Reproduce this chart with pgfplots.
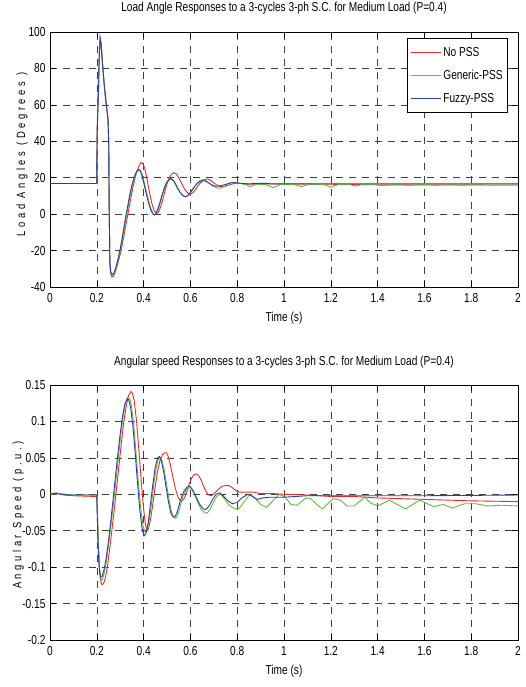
\documentclass[border=0pt]{standalone}
\usepackage{fontspec}
\setmainfont{Liberation Sans}[FakeStretch=0.78]
\usepackage{pgfplots}
\pgfplotsset{compat=1.18}
\definecolor{mred}{RGB}{240,40,40}
\definecolor{mgreen}{RGB}{100,185,60}
\definecolor{mblue}{RGB}{40,60,170}
\pgfplotsset{mstyle/.style={
  scale only axis, width=468pt, height=255pt,
  xmin=0, xmax=2,
  xtick={0,0.2,0.4,0.6,0.8,1,1.2,1.4,1.6,1.8,2},
  xticklabels={0,0.2,0.4,0.6,0.8,1,1.2,1.4,1.6,1.8,2},
  grid=major,
  major grid style={black!75, line width=0.6pt, dash pattern=on 7pt off 6pt},
  tick align=inside, tick pos=both, major tick length=6pt,
  tick style={black, line width=0.6pt},
  axis line style={black, line width=0.9pt},
  tick label style={font=\fontsize{13}{13}\selectfont},
  xticklabel style={yshift=-3pt},
  yticklabel style={xshift=-1pt},
  /pgf/number format/assume math mode=true,
  scaled y ticks=false,
  xlabel={Time (s)},
  xlabel style={font=\fontsize{13}{13}\selectfont, at={(axis description cs:0.5,-0.122)}, anchor=center},
  ylabel style={font=\fontsize{12}{12}\selectfont\addfontfeatures{LetterSpace=30}, anchor=center},
  title style={font=\fontsize{13}{13}\selectfont, anchor=center},
  every axis plot/.append style={line width=0.9pt},
}}
\begin{document}
\begin{tikzpicture}
\useasboundingbox (0,0) rectangle (526pt,-687pt);
\begin{axis}[mstyle, at={(50pt,-287pt)}, anchor=south west,
  ymin=-40, ymax=100,
  ytick={-40,-20,0,20,40,60,80,100},
  yticklabels={-40,-20,0,20,40,60,80,100},
  ylabel={Load Angles (Degrees )},
  ylabel style={at={(axis description cs:-0.06,0.52)}},
  title={Load Angle Responses to a 3-cycles 3-ph S.C. for Medium Load (P=0.4)},
  title style={at={(axis description cs:0.5,1.0706)}},
  legend cell align=left,
  legend style={at={(axis description cs:0.9786,0.9765)}, anchor=north east,
    line width=0.9pt, fill=white,
    font=\fontsize{13}{13}\selectfont, row sep=8pt,
    inner xsep=3pt, inner ysep=7pt},
  legend image code/.code={\draw[line width=1.1pt, #1] (0pt,0pt) -- (30pt,0pt);},
]
\addplot[color=mred] coordinates {
(0,16.8) (0.1,16.8) (0.2,16.8) (0.201,45) (0.204,58) (0.207,70) (0.211,88) (0.215,96) (0.219,93) (0.225,82) (0.232,70) (0.24,60) (0.248,52) (0.251,40) (0.253,5) (0.256,-28) (0.26,-33) (0.265,-34.5) (0.272,-34) (0.28,-31.5) (0.29,-27) (0.30,-22) (0.31,-16) (0.32,-9) (0.33,-2) (0.34,5) (0.35,12) (0.36,18) (0.37,23) (0.38,26.5) (0.39,28.5) (0.398,27.5) (0.405,25) (0.415,19) (0.425,12) (0.435,6) (0.445,2) (0.455,0.5) (0.462,0.8) (0.47,3) (0.48,7) (0.49,12) (0.50,16.5) (0.51,20) (0.52,22) (0.53,22.8) (0.54,22) (0.55,20) (0.56,17.5) (0.57,15) (0.58,12.8) (0.59,11.5) (0.6,11) (0.61,11.8) (0.62,13.3) (0.63,15) (0.64,16.8) (0.65,18) (0.66,19) (0.67,19.3) (0.68,19) (0.69,18.2) (0.70,17.2) (0.71,16.3) (0.72,15.6) (0.73,15.2) (0.74,15.1) (0.75,15.3) (0.76,15.8) (0.78,16.6) (0.8,17.0) (0.82,16.8) (0.85,16.4) (0.9,16.6) (1.0,16.5) (1.2,16.4) (1.4,16.1) (2,16.0)
};
\addlegendentry{No PSS}
\addplot[color=mgreen] coordinates {
(0,16.8) (0.2,16.8) (0.201,40) (0.204,55) (0.207,66) (0.21,85) (0.214,96) (0.218,94) (0.224,83) (0.232,71) (0.24,61) (0.248,52) (0.251,38) (0.253,2) (0.256,-27) (0.26,-32) (0.266,-33.5) (0.274,-33) (0.28,-31) (0.29,-26) (0.30,-20.5) (0.31,-13.5) (0.32,-6) (0.33,1.5) (0.34,8.5) (0.35,14.5) (0.36,19.5) (0.37,22.8) (0.38,24.2) (0.387,24) (0.395,21.5) (0.40,19) (0.41,13.5) (0.42,8) (0.43,3.5) (0.44,0.5) (0.447,-0.3) (0.455,0.5) (0.465,3.5) (0.475,8) (0.485,12.5) (0.495,16) (0.505,18.3) (0.515,19.2) (0.525,18.5) (0.535,16.5) (0.545,14) (0.555,12) (0.565,10.6) (0.575,9.8) (0.585,9.8) (0.595,10.8) (0.605,12.5) (0.615,14.5) (0.625,16.3) (0.635,17.7) (0.645,18.6) (0.655,18.9) (0.665,18.5) (0.675,17.5) (0.69,16) (0.705,14.8) (0.72,14.2) (0.73,14.3) (0.745,15.3) (0.76,16.6) (0.775,17.5) (0.79,17.4) (0.81,16.8) (0.835,16.3) (0.855,15.1) (0.875,16.1) (0.92,16.3) (0.955,14.6) (0.985,16.2) (1.04,16.3) (1.075,15.1) (1.1,16.2) (1.17,16.3) (1.2,14.8) (1.23,16.2) (1.28,16.3) (1.305,15.3) (1.33,16.2) (1.39,16.3) (1.42,15.7) (1.45,16.1) (1.5,16.2) (1.53,15.8) (1.56,16.1) (1.62,16.2) (1.65,15.8) (1.68,16.1) (1.73,16.2) (1.76,15.9) (1.79,16.1) (1.85,16.2) (1.88,15.9) (1.91,16.1) (2,16.1)
};
\addlegendentry{Generic-PSS}
\addplot[color=mblue] coordinates {
(0,16.8) (0.2,16.8) (0.201,40) (0.204,55) (0.207,66) (0.21,85) (0.214,97) (0.218,94) (0.224,83) (0.232,71) (0.24,61) (0.248,52) (0.251,38) (0.253,2) (0.256,-27) (0.26,-32) (0.265,-33) (0.272,-32.5) (0.28,-30) (0.29,-25) (0.30,-19) (0.31,-12) (0.32,-4) (0.33,3) (0.34,10) (0.35,16) (0.36,20.5) (0.37,23.5) (0.378,24.5) (0.385,24) (0.392,21.5) (0.40,17.5) (0.41,12) (0.42,6.5) (0.43,2.5) (0.44,0) (0.446,-0.5) (0.452,0) (0.46,2.5) (0.47,6.5) (0.48,11) (0.49,15) (0.50,17.8) (0.51,19.2) (0.517,19.5) (0.525,18.8) (0.535,17) (0.545,14.5) (0.555,12.2) (0.565,10.5) (0.575,9.6) (0.582,9.6) (0.59,10.5) (0.60,12) (0.61,13.8) (0.62,15.5) (0.63,16.9) (0.64,17.9) (0.65,18.4) (0.66,18.3) (0.67,17.8) (0.68,17) (0.69,16.2) (0.70,15.6) (0.71,15.3) (0.72,15.3) (0.73,15.6) (0.75,16.3) (0.77,17.1) (0.79,17.3) (0.81,17.0) (0.85,16.6) (0.88,16.9) (0.92,16.9) (0.95,16.6) (1.0,16.7) (2,16.7)
};
\addlegendentry{Fuzzy-PSS}
\end{axis}
\begin{axis}[mstyle, at={(50pt,-640pt)}, anchor=south west,
  ymin=-0.2, ymax=0.15,
  ytick={-0.2,-0.15,-0.1,-0.05,0,0.05,0.1,0.15},
  yticklabels={-0.2,-0.15,-0.1,-0.05,0,0.05,0.1,0.15},
  ylabel={Angular Speed (p.u.)},
  ylabel style={at={(axis description cs:-0.068,0.49)}},
  title={Angular speed Responses to a 3-cycles 3-ph S.C. for Medium Load (P=0.4)},
  title style={at={(axis description cs:0.5,1.067)}},
]
\addplot[color=mred] coordinates {
(0,0) (0.04,0.001) (0.06,-0.001) (0.1,-0.002) (0.195,-0.003) (0.2,-0.004) (0.203,-0.03) (0.207,-0.07) (0.212,-0.105) (0.217,-0.12) (0.222,-0.124) (0.228,-0.123) (0.235,-0.117) (0.245,-0.1) (0.255,-0.075) (0.265,-0.048) (0.275,-0.02) (0.285,0.01) (0.295,0.04) (0.305,0.07) (0.315,0.098) (0.325,0.12) (0.335,0.135) (0.345,0.141) (0.352,0.139) (0.36,0.128) (0.37,0.1) (0.38,0.06) (0.39,0.018) (0.40,-0.02) (0.408,-0.042) (0.414,-0.05) (0.42,-0.048) (0.43,-0.034) (0.44,-0.012) (0.45,0.012) (0.46,0.032) (0.47,0.046) (0.48,0.054) (0.49,0.057) (0.498,0.057) (0.505,0.052) (0.515,0.04) (0.525,0.024) (0.535,0.009) (0.545,-0.002) (0.555,-0.008) (0.565,-0.009) (0.575,-0.005) (0.585,0.004) (0.595,0.014) (0.605,0.022) (0.615,0.027) (0.625,0.028) (0.635,0.026) (0.645,0.02) (0.655,0.012) (0.665,0.005) (0.675,0.0) (0.685,-0.002) (0.695,-0.001) (0.705,0.002) (0.72,0.007) (0.735,0.011) (0.75,0.012) (0.765,0.012) (0.78,0.009) (0.795,0.005) (0.81,0.003) (0.84,0.003) (0.87,0.003) (0.9,0.001) (0.95,0.001) (1.0,0.0) (1.1,-0.001) (1.15,-0.002) (1.2,-0.003) (1.3,-0.003) (1.35,-0.004) (1.4,-0.005) (1.5,-0.006) (1.6,-0.007) (1.7,-0.008) (1.8,-0.009) (2,-0.01)
};
\addplot[color=mgreen] coordinates {
(0,0) (0.04,0.001) (0.1,-0.001) (0.2,-0.001) (0.203,-0.03) (0.207,-0.07) (0.212,-0.1) (0.218,-0.118) (0.224,-0.117) (0.232,-0.108) (0.242,-0.09) (0.252,-0.065) (0.262,-0.038) (0.272,-0.01) (0.282,0.02) (0.292,0.05) (0.302,0.08) (0.312,0.106) (0.322,0.125) (0.332,0.133) (0.34,0.132) (0.348,0.122) (0.358,0.095) (0.368,0.055) (0.378,0.015) (0.388,-0.02) (0.398,-0.044) (0.406,-0.052) (0.414,-0.05) (0.424,-0.035) (0.434,-0.012) (0.444,0.015) (0.454,0.036) (0.464,0.048) (0.472,0.05) (0.48,0.045) (0.49,0.03) (0.5,0.01) (0.51,-0.01) (0.52,-0.025) (0.53,-0.032) (0.538,-0.033) (0.548,-0.027) (0.558,-0.015) (0.57,-0.001) (0.585,0.008) (0.6,0.009) (0.615,0.002) (0.63,-0.01) (0.645,-0.02) (0.66,-0.025) (0.672,-0.026) (0.685,-0.02) (0.70,-0.01) (0.715,-0.002) (0.728,0.0) (0.745,-0.006) (0.765,-0.015) (0.79,-0.02) (0.81,-0.019) (0.83,-0.01) (0.855,0.0) (0.875,-0.005) (0.9,-0.014) (0.925,-0.018) (0.95,-0.01) (0.98,0.0) (1.005,-0.004) (1.03,-0.014) (1.055,-0.015) (1.09,-0.006) (1.11,-0.005) (1.14,-0.014) (1.165,-0.02) (1.19,-0.012) (1.21,-0.006) (1.24,-0.008) (1.27,-0.016) (1.3,-0.016) (1.345,-0.004) (1.37,-0.012) (1.40,-0.016) (1.45,-0.008) (1.49,-0.015) (1.52,-0.02) (1.55,-0.014) (1.58,-0.008) (1.64,-0.017) (1.68,-0.014) (1.72,-0.019) (1.77,-0.013) (1.82,-0.013) (1.87,-0.016) (1.93,-0.015) (2,-0.016)
};
\addplot[color=mblue] coordinates {
(0,0) (0.025,0.002) (0.045,0.0) (0.08,-0.001) (0.2,-0.001) (0.202,-0.03) (0.206,-0.075) (0.211,-0.105) (0.216,-0.114) (0.222,-0.113) (0.23,-0.105) (0.24,-0.088) (0.25,-0.064) (0.26,-0.036) (0.27,-0.006) (0.28,0.025) (0.29,0.055) (0.30,0.083) (0.31,0.107) (0.32,0.124) (0.33,0.131) (0.336,0.13) (0.344,0.12) (0.354,0.095) (0.364,0.057) (0.374,0.015) (0.384,-0.022) (0.394,-0.048) (0.402,-0.057) (0.41,-0.054) (0.42,-0.038) (0.43,-0.012) (0.44,0.015) (0.45,0.038) (0.46,0.05) (0.468,0.052) (0.476,0.046) (0.486,0.03) (0.496,0.01) (0.506,-0.01) (0.516,-0.025) (0.526,-0.031) (0.534,-0.031) (0.544,-0.024) (0.556,-0.01) (0.57,0.003) (0.585,0.01) (0.598,0.011) (0.61,0.006) (0.625,-0.004) (0.64,-0.014) (0.655,-0.02) (0.665,-0.021) (0.68,-0.016) (0.695,-0.007) (0.71,0.0) (0.725,0.002) (0.74,-0.002) (0.76,-0.009) (0.78,-0.013) (0.8,-0.011) (0.82,-0.005) (0.845,0.0) (0.865,-0.003) (0.885,-0.007) (0.91,-0.005) (0.94,-0.004) (1.0,-0.004) (1.1,-0.002) (1.3,-0.002) (1.6,-0.002) (2,-0.001)
};
\end{axis}
\end{tikzpicture}
\end{document}
